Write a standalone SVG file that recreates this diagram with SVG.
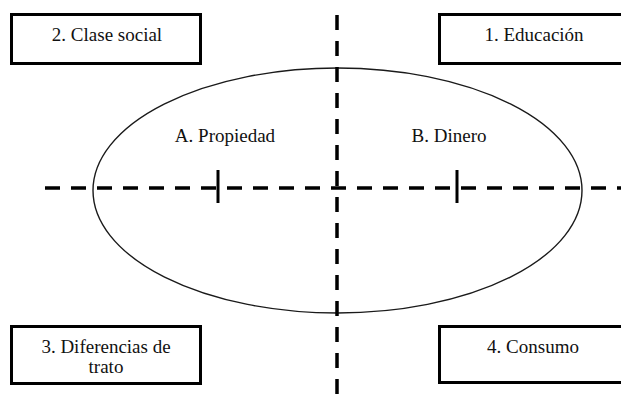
<svg xmlns="http://www.w3.org/2000/svg" width="621" height="402" viewBox="0 0 621 402">
  <style>
    .box { fill: #ffffff; stroke: #000000; stroke-width: 3; }
    .label { font-family: "Liberation Serif", "Times New Roman", serif; font-size: 19px; fill: #111111; text-anchor: middle; }
    .axis { fill: none; stroke: #000000; stroke-width: 3.5; stroke-dasharray: 15 11; }
    .tick { stroke: #000000; stroke-width: 3; }
    .oval { fill: none; stroke: #1a1a1a; stroke-width: 1.4; }
  </style>
  <rect width="621" height="402" fill="#ffffff"/>

  <!-- central ellipse with its two halves -->
  <g id="ellipse">
    <ellipse class="oval" cx="337.5" cy="190.5" rx="244.5" ry="122.5"/>
    <text class="label" x="225" y="142">A. Propiedad</text>
    <text class="label" x="449" y="142">B. Dinero</text>
  </g>

  <!-- dashed axes and tick marks -->
  <g id="connectors">
    <line class="axis" x1="45" y1="188" x2="621" y2="188"/>
    <line class="axis" x1="337" y1="15" x2="337" y2="402"/>
    <line class="tick" x1="218" y1="170" x2="218" y2="203"/>
    <line class="tick" x1="457" y1="170" x2="457" y2="203"/>
  </g>

  <g id="clase-social">
    <rect class="box" x="11.5" y="14.5" width="189" height="49"/>
    <text class="label" x="107" y="41">2. Clase social</text>
  </g>

  <g id="educacion">
    <rect class="box" x="439.5" y="14.5" width="189" height="49"/>
    <text class="label" x="534" y="41">1. Educación</text>
  </g>

  <g id="diferencias-de-trato">
    <rect class="box" x="11.5" y="326.5" width="189" height="57"/>
    <text class="label" x="106" y="353">3. Diferencias de</text>
    <text class="label" x="106" y="373">trato</text>
  </g>

  <g id="consumo">
    <rect class="box" x="439.5" y="326.5" width="189" height="56"/>
    <text class="label" x="533" y="353">4. Consumo</text>
  </g>
</svg>
